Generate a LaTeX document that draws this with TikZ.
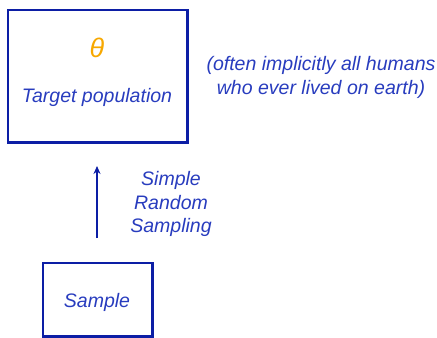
\documentclass[tikz,border=0pt]{standalone}
\usepackage{fontspec}
\setmainfont{Liberation Sans}
\usetikzlibrary{arrows.meta}
\definecolor{boxblue}{RGB}{12,30,165}
\definecolor{txtblue}{RGB}{40,60,190}
\definecolor{thetaor}{RGB}{247,168,0}
\begin{document}
\begin{tikzpicture}[x=1bp,y=-1bp,
  frame/.style={draw=boxblue,line width=1.2bp,rectangle,inner sep=0pt},
  heavy/.style={draw=boxblue,line width=3bp},
  lbl/.style={text=txtblue,font=\fontsize{19.6}{24}\selectfont\itshape,align=center,inner sep=0pt}]
\useasboundingbox (0,0) rectangle (437,337);
% target population box
\node[frame,minimum width=179bp,minimum height=132bp] (tbox) at (97.5,76) {};
\draw[heavy] ([xshift=-0.5bp]tbox.north east) -- ([xshift=-0.5bp,yshift=0.5bp]tbox.south east) -- ([yshift=0.5bp]tbox.south west);
\node[text=thetaor,font=\fontsize{27}{30}\selectfont\itshape,inner sep=0pt] (theta) at (97,48) {θ};
\node[lbl] (tpop) at (97,97) {Target population};
\node[lbl] (note) at (321,77) {(often implicitly all humans\\who ever lived on earth)};
% sample box
\node[frame,minimum width=109bp,minimum height=73bp] (sbox) at (97.5,299.5) {};
\draw[heavy] ([xshift=-0.5bp]sbox.north east) -- ([xshift=-0.5bp,yshift=0.5bp]sbox.south east) -- ([yshift=0.5bp]sbox.south west);
\node[lbl] (samp) at (97,302) {Sample};
% arrow
\coordinate (abot) at (97,238);
\coordinate (atop) at (97,166);
\draw[boxblue,line width=1.3bp,-{Stealth[length=8bp,width=7bp]}] (abot) -- (atop);
\node[lbl] (srs) at (171,204) {Simple\\Random\\Sampling};
\end{tikzpicture}
\end{document}
